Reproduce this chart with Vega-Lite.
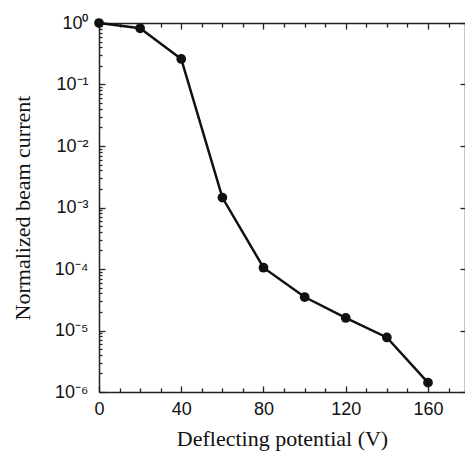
{
  "$schema": "https://vega.github.io/schema/vega-lite/v6.json",
  "width": 366,
  "height": 369,
  "autosize": {"type": "none"},
  "padding": {"left": 99, "top": 23, "right": 0, "bottom": 60},
  "background": "white",
  "config": {
    "view": {"stroke": null},
    "axis": {
      "domainColor": "#222222",
      "domainWidth": 1.5,
      "tickColor": "#222222",
      "tickWidth": 1.3,
      "labelFont": "Liberation Sans",
      "labelFontSize": 18,
      "labelColor": "#111111",
      "titleFont": "Liberation Serif",
      "titleFontSize": 22,
      "titleFontWeight": "normal",
      "titleColor": "#111111",
      "grid": false,
      "labelOverlap": false,
      "labelBound": false,
      "labelFlush": false
    }
  },
  "data": {
    "values": [
      {"v": 0, "i": 1.0},
      {"v": 20, "i": 0.82},
      {"v": 40, "i": 0.26},
      {"v": 60, "i": 0.00145},
      {"v": 80, "i": 0.000105},
      {"v": 100, "i": 0.000035},
      {"v": 120, "i": 0.000016},
      {"v": 140, "i": 0.0000077},
      {"v": 160, "i": 0.00000142}
    ]
  },
  "layer": [
    {
      "mark": {"type": "line", "color": "#111111", "strokeWidth": 2.5, "clip": false},
      "encoding": {
        "x": {
          "field": "v", "type": "quantitative",
          "scale": {"domain": [0, 178], "nice": false, "zero": false},
          "axis": {
            "orient": "bottom",
            "title": "Deflecting potential (V)",
            "values": [0, 10, 20, 30, 40, 50, 60, 70, 80, 90, 100, 110, 120, 130, 140, 150, 160, 170],
            "labelExpr": "datum.value % 40 == 0 ? datum.label : ''",
            "tickSize": {"condition": {"test": "datum.value % 40 == 0", "value": -6}, "value": -4},
            "labelPadding": 14,
            "titlePadding": 8
          }
        },
        "y": {
          "field": "i", "type": "quantitative",
          "scale": {"type": "log", "domain": [0.000001, 1], "nice": false},
          "axis": {
            "orient": "left",
            "title": "Normalized beam current",
            "values": [0.000001, 0.000002, 0.000003, 0.000004, 0.000005, 0.000006, 0.000007, 0.000008, 0.000009,
                       0.00001, 0.00002, 0.00003, 0.00004, 0.00005, 0.00006, 0.00007, 0.00008, 0.00009,
                       0.0001, 0.0002, 0.0003, 0.0004, 0.0005, 0.0006, 0.0007, 0.0008, 0.0009,
                       0.001, 0.002, 0.003, 0.004, 0.005, 0.006, 0.007, 0.008, 0.009,
                       0.01, 0.02, 0.03, 0.04, 0.05, 0.06, 0.07, 0.08, 0.09,
                       0.1, 0.2, 0.3, 0.4, 0.5, 0.6, 0.7, 0.8, 0.9, 1],
            "labelExpr": "abs(log(datum.value)/LN10 - round(log(datum.value)/LN10)) < 0.000001 ? ('10' + (round(log(datum.value)/LN10) == 0 ? '⁰' : '⁻' + ['', '¹', '²', '³', '⁴', '⁵', '⁶'][-round(log(datum.value)/LN10)])) : ''",
            "tickSize": {"condition": {"test": "abs(log(datum.value)/LN10 - round(log(datum.value)/LN10)) < 0.000001", "value": -6}, "value": -3},
            "labelPadding": 17,
            "titlePadding": 20
          }
        }
      }
    },
    {
      "mark": {"type": "point", "filled": true, "size": 95, "color": "#111111", "opacity": 1, "clip": false},
      "encoding": {
        "x": {
          "field": "v", "type": "quantitative",
          "axis": {
            "orient": "top",
            "title": null,
            "labels": false,
            "values": [0, 10, 20, 30, 40, 50, 60, 70, 80, 90, 100, 110, 120, 130, 140, 150, 160, 170],
            "tickSize": {"condition": {"test": "datum.value % 40 == 0", "value": -6}, "value": -4}
          }
        },
        "y": {
          "field": "i", "type": "quantitative",
          "axis": {
            "orient": "right",
            "title": null,
            "labels": false,
            "values": [0.000001, 0.00001, 0.0001, 0.001, 0.01, 0.1, 1],
            "tickSize": -5
          }
        }
      }
    }
  ],
  "resolve": {"axis": {"x": "independent", "y": "independent"}}
}
